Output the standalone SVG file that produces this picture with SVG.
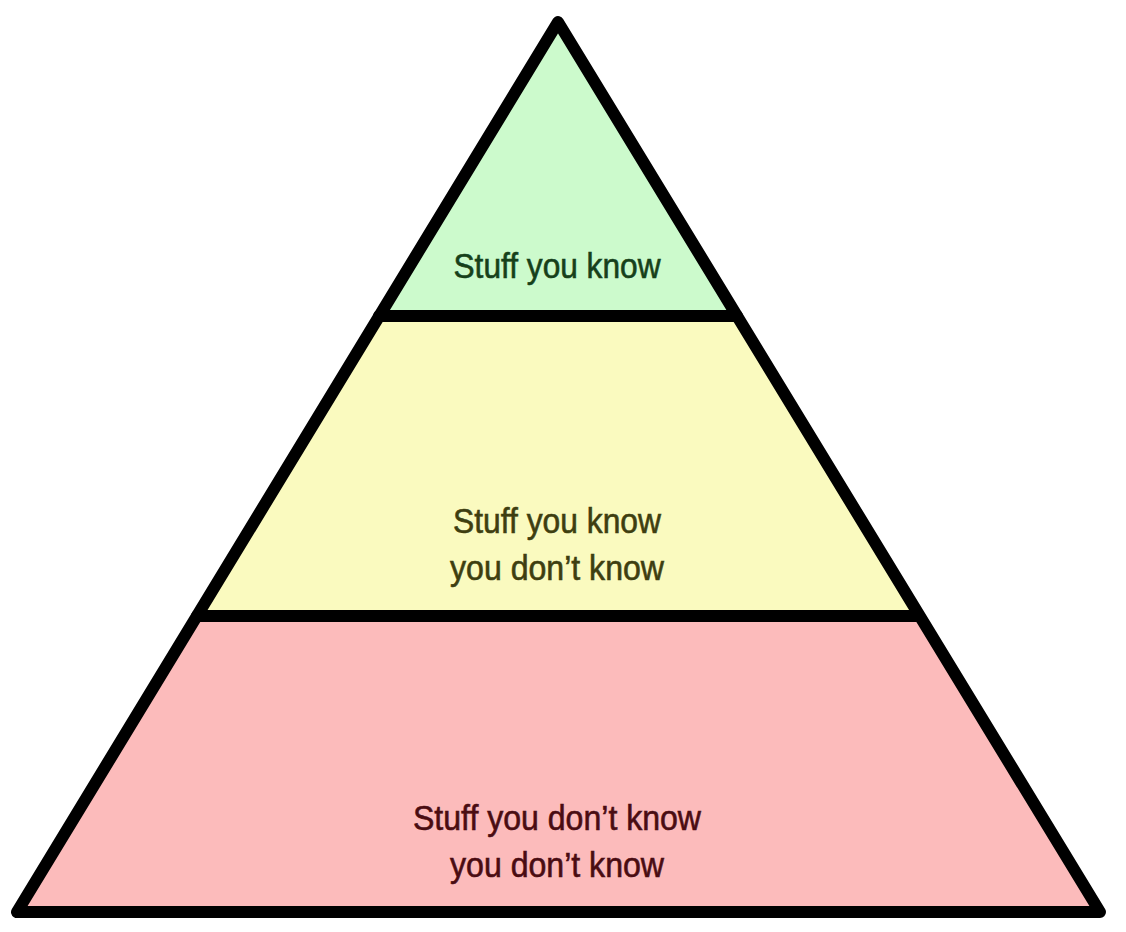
<svg xmlns="http://www.w3.org/2000/svg" width="1126" height="932" viewBox="0 0 1126 932">
<style>
.lbl{font-family:"Liberation Sans","Noto Sans",sans-serif;font-size:35px;text-anchor:middle;stroke-width:0.6}
.edge{fill:none;stroke:#000;stroke-width:12;stroke-linejoin:round;stroke-linecap:round}
</style>
<rect width="1126" height="932" fill="#fff"/>
<g id="tier-top">
<polygon points="558,22 379,316 737,316" fill="#ccfacc"/>
<text class="lbl" x="557" y="278" fill="#16401a" stroke="#16401a" textLength="207" lengthAdjust="spacingAndGlyphs">Stuff you know</text>
</g>
<g id="tier-middle">
<polygon points="379,316 737,316 919,616 197,616" fill="#fafabf"/>
<text class="lbl" x="557" y="533" fill="#3e3e10" stroke="#3e3e10" textLength="208" lengthAdjust="spacingAndGlyphs">Stuff you know</text>
<text class="lbl" x="557" y="580" fill="#3e3e10" stroke="#3e3e10" textLength="214" lengthAdjust="spacingAndGlyphs">you don’t know</text>
</g>
<g id="tier-bottom">
<polygon points="197,616 919,616 1100,912 17,912" fill="#fcbbbb"/>
<text class="lbl" x="557" y="830" fill="#4a0c12" stroke="#4a0c12" textLength="288" lengthAdjust="spacingAndGlyphs">Stuff you don’t know</text>
<text class="lbl" x="557" y="877" fill="#4a0c12" stroke="#4a0c12" textLength="214" lengthAdjust="spacingAndGlyphs">you don’t know</text>
</g>
<g id="connectors">
<polygon class="edge" points="558,22 17,912 1100,912"/>
<line class="edge" x1="379" y1="316" x2="737" y2="316" stroke-linecap="butt"/>
<line class="edge" x1="197" y1="616" x2="919" y2="616" stroke-linecap="butt"/>
</g>
</svg>
